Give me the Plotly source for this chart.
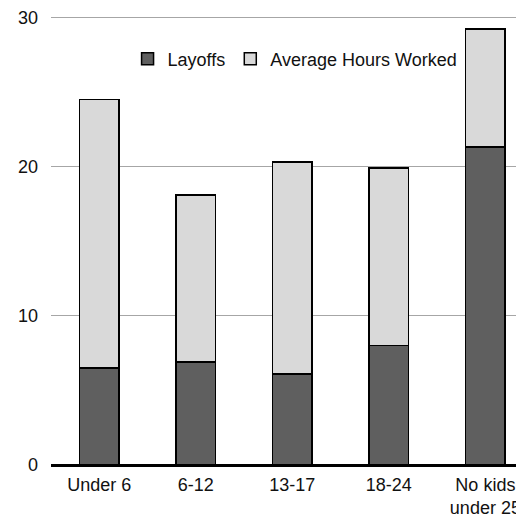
import plotly.graph_objects as go

categories = ["Under 6", "6-12", "13-17", "18-24", "No kids<br>under 25"]
layoffs = [6.5, 6.9, 6.1, 8.0, 21.3]
hours_worked = [18.0, 11.2, 14.2, 11.9, 7.9]

fig = go.Figure()
fig.add_trace(go.Bar(x=categories, y=layoffs, name="Layoffs",
                     marker=dict(color="#5f5f5f", line=dict(color="black", width=1.5))))
fig.add_trace(go.Bar(x=categories, y=hours_worked, name="Average Hours Worked",
                     marker=dict(color="#d9d9d9", line=dict(color="black", width=1.5))))

# page has an 8px body margin, so the figure is shifted right/down by 8px
fig.update_layout(
    barmode="stack",
    bargap=0.59,
    width=516, height=511,
    margin=dict(l=43, r=0, t=4, b=54),
    plot_bgcolor="white", paper_bgcolor="white",
    font=dict(family="Liberation Sans, Arial, sans-serif", size=18, color="#111"),
    showlegend=True,
    legend=dict(orientation="h", x=0.516, xanchor="center", y=0.902, yanchor="middle",
                traceorder="normal", font=dict(size=18), bgcolor="rgba(0,0,0,0)",
                itemwidth=30, tracegroupgap=0),
    xaxis=dict(range=[-0.5, 4.4], showgrid=False, ticks="", showline=False,
               ticklabelstandoff=7, ticklabeloverflow="allow"),
    yaxis=dict(range=[0, 30.15], tickvals=[0, 10, 20, 30], gridcolor="#a6a6a6", gridwidth=1,
               zeroline=True, zerolinecolor="black", zerolinewidth=3, ticks="", showline=False,
               ticklabelstandoff=12, ticklabeloverflow="allow"),
)

fig.write_html("out.html")
